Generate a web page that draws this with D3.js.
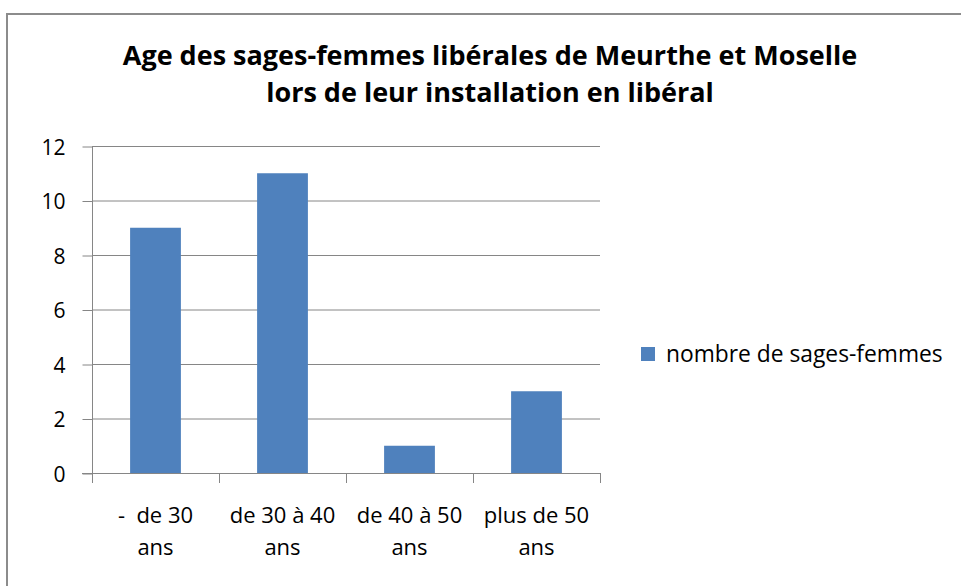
<!DOCTYPE html>
<html>
<head>
<meta charset="utf-8" />
<script src="https://d3js.org/d3.v7.min.js"></script>
<style>
  body { margin: 0; background: #fff; }
  text { font-family: "Open Sans", sans-serif; fill: #000; white-space: pre; }
</style>
</head>
<body>
<div id="chart"></div>
<script>
  // data
  const categories = [["-  de 30", "ans"], ["de 30 à 40", "ans"], ["de 40 à 50", "ans"], ["plus de 50", "ans"]];
  const values = [9, 11, 1, 3];
  const yTicks = [0, 2, 4, 6, 8, 10, 12];
  const seriesName = "nombre de sages-femmes";
  const titleLines = ["Age des sages-femmes libérales de Meurthe et Moselle", "lors de leur installation en libéral"];

  const W = 961, H = 586;
  const plot = { left: 92, right: 600, top: 146, bottom: 473 };
  const barColor = "#4F81BD";
  const lineColor = "#868686";

  const svg = d3.select("#chart").append("svg")
    .attr("width", W).attr("height", H);

  // outer frame
  svg.append("rect")
    .attr("x", 7).attr("y", 14)
    .attr("width", W + 10).attr("height", H + 10)
    .attr("fill", "none").attr("stroke", "#8c8c8c").attr("stroke-width", 2);

  // title
  svg.append("g").selectAll("text")
    .data(titleLines)
    .join("text")
    .attr("x", 490)
    .attr("y", (d, i) => 65 + i * 37)
    .attr("text-anchor", "middle")
    .style("font-weight", "bold")
    .style("font-size", "27px")
    .text(d => d);

  const x = d3.scaleBand()
    .domain(d3.range(categories.length))
    .range([plot.left, plot.right])
    .paddingInner(0.6)
    .paddingOuter(0.3);

  const y = d3.scaleLinear()
    .domain([0, 12])
    .range([plot.bottom, plot.top]);

  // gridlines
  svg.append("g").selectAll("line")
    .data(yTicks.filter(d => d > 0))
    .join("line")
    .attr("x1", plot.left).attr("x2", plot.right)
    .attr("y1", d => y(d) + 0.5).attr("y2", d => y(d) + 0.5)
    .attr("stroke", lineColor);

  // y axis
  const yAxis = svg.append("g")
    .attr("transform", `translate(${plot.left + 0.5},0.5)`)
    .call(d3.axisLeft(y).tickValues(yTicks).tickSize(10).tickPadding(17).tickFormat(d3.format("d")));
  yAxis.select(".domain").attr("stroke", lineColor).attr("d", `M0,${plot.top}V${plot.bottom}`);
  yAxis.selectAll(".tick line").attr("stroke", lineColor);
  yAxis.selectAll(".tick text").style("font-size", "21px").style("font-family", "'Open Sans', sans-serif").attr("dy", "0.36em");

  // bars
  svg.append("g").selectAll("rect")
    .data(values)
    .join("rect")
    .attr("x", (d, i) => x(i))
    .attr("width", x.bandwidth())
    .attr("y", d => y(d))
    .attr("height", d => y(0) - y(d))
    .attr("fill", barColor);

  // x axis
  svg.append("line")
    .attr("x1", plot.left - 10).attr("x2", plot.right)
    .attr("y1", plot.bottom + 0.5).attr("y2", plot.bottom + 0.5)
    .attr("stroke", lineColor);
  const step = (plot.right - plot.left) / categories.length;
  svg.append("g").selectAll("line")
    .data(d3.range(categories.length + 1))
    .join("line")
    .attr("x1", d => plot.left + d * step + 0.5).attr("x2", d => plot.left + d * step + 0.5)
    .attr("y1", plot.bottom).attr("y2", plot.bottom + 10)
    .attr("stroke", lineColor);

  const labels = svg.append("g").selectAll("text")
    .data(categories)
    .join("text")
    .attr("text-anchor", "middle")
    .style("font-size", "22px");
  labels.selectAll("tspan")
    .data((d, i) => d.map(s => ({ s, i })))
    .join("tspan")
    .attr("x", d => x(d.i) + x.bandwidth() / 2)
    .attr("y", (d, j) => 523 + j * 32)
    .text(d => d.s);

  // legend
  svg.append("rect")
    .attr("x", 641).attr("y", 347)
    .attr("width", 14).attr("height", 14)
    .attr("fill", barColor);
  svg.append("text")
    .attr("x", 666).attr("y", 362)
    .style("font-size", "22.8px")
    .text(seriesName);
</script>
</body>
</html>
